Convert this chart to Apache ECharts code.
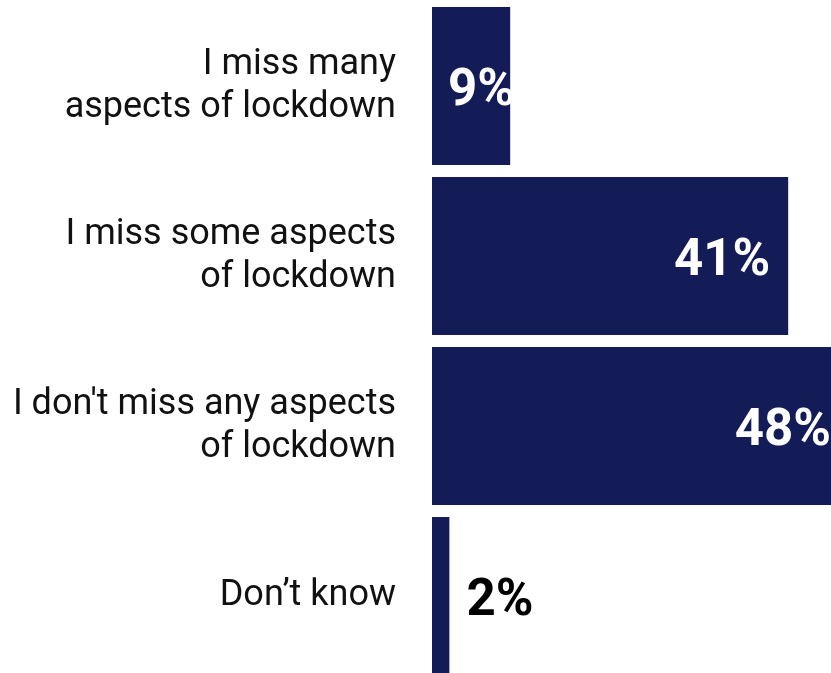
<!DOCTYPE html>
<html>
<head>
<meta charset="utf-8">
<script src="https://cdn.jsdelivr.net/npm/echarts@6/dist/echarts.min.js"></script>
<style>html,body{margin:0;padding:0;background:#fff;}#c{width:831px;height:673px;}</style>
</head>
<body>
<div id="c"></div>
<script>
const categories = [
  "I miss many\naspects of lockdown",
  "I miss some aspects\nof lockdown",
  "I don't miss any aspects\nof lockdown",
  "Don\u2019t know"
];
const values = [9, 41, 48, 2];
const labelTexts = ["9%", "41%", "48%", "2%"];

const barColor = "#141c58";
const data = values.map((v, i) => {
  let label;
  if (i === 0) {
    label = { position: "insideLeft", distance: 16, color: "#ffffff" };
  } else if (i === 3) {
    label = { position: "right", distance: 17, color: "#000000" };
  } else {
    label = { position: "insideRight", distance: 18, color: "#ffffff" };
  }
  return { value: v, label: label };
});

const chart = echarts.init(document.getElementById("c"), null, { renderer: "canvas" });
chart.setOption({
  animation: false,
  backgroundColor: "#ffffff",
  grid: { left: 432, top: 1, width: 417, height: 680, containLabel: false, outerBoundsMode: "none" },
  xAxis: { type: "value", min: 0, max: 48, show: false, splitLine: { show: false } },
  yAxis: {
    type: "category",
    data: categories,
    inverse: true,
    axisLine: { show: false },
    axisTick: { show: false },
    axisLabel: {
      margin: 36,
      fontFamily: "Roboto",
      fontSize: 36,
      lineHeight: 43,
      color: "#111111",
      align: "right",
      padding: [9, 0, 0, 0]
    }
  },
  series: [{
    type: "bar",
    data: data,
    barCategoryGap: "7%",
    clip: false,
    itemStyle: { color: barColor },
    label: {
      show: true,
      formatter: p => labelTexts[p.dataIndex],
      fontFamily: "Roboto",
      fontWeight: "bold",
      fontSize: 51,
      offset: [0, 6]
    }
  }]
});
</script>
</body>
</html>
